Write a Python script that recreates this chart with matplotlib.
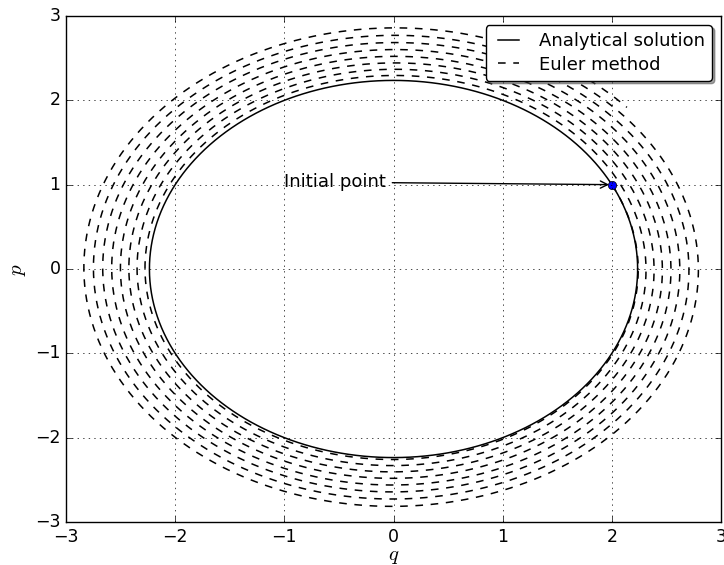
import numpy as np
import matplotlib
matplotlib.use("Agg")
import matplotlib.pyplot as plt

plt.style.use('classic')

# initial condition and Euler settings
q0 = 2.0
p0 = 1.0
h = 0.01
n_steps = 5000

axis_ticks = [-3, -2, -1, 0, 1, 2, 3]

# Euler method for the harmonic oscillator
q_euler = [q0]
p_euler = [p0]
for i in range(n_steps):
    q, p = q_euler[-1], p_euler[-1]
    q_euler.append(q + h * p)
    p_euler.append(p - h * q)

# analytical solution (circle through the initial point)
t = np.linspace(0, 2 * np.pi, 1000)
r0 = np.sqrt(q0**2 + p0**2)
q_exact = r0 * np.cos(t)
p_exact = r0 * np.sin(t)

fig = plt.figure(figsize=(7.24, 5.65), dpi=100, facecolor='white')
ax = fig.add_axes([0.0912, 0.0761, 0.9047, 0.8956])

ax.plot(q_exact, p_exact, 'k-', lw=1.1, label='Analytical solution')
ax.plot(q_euler, p_euler, 'k--', lw=1.1, dashes=(5.5, 5.5), label='Euler method')
ax.plot([q0], [p0], 'o', color='blue', markersize=6, markeredgecolor='black', markeredgewidth=0.5)

ax.annotate('Initial point', xy=(q0, p0), xytext=(-1, 0.97),
            fontsize=13, arrowprops=dict(arrowstyle='->', color='black'))

ax.set_xlim(-3, 3)
ax.set_ylim(-3, 3)
ax.set_xticks(axis_ticks)
ax.set_yticks(axis_ticks)
ax.grid(True, linestyle=':', color='black')
ax.set_xlabel('$q$', fontsize=15, labelpad=0)
ax.set_ylabel('$p$', fontsize=15)
ax.tick_params(labelsize=12.5, pad=4)

leg = ax.legend(loc='upper right', fancybox=True, shadow=True, fontsize=13,
                borderaxespad=0.5, handlelength=1.75, handletextpad=0.8,
                labelspacing=0.3, borderpad=0.4)

fig.savefig('out.png', dpi=100, facecolor='white')
